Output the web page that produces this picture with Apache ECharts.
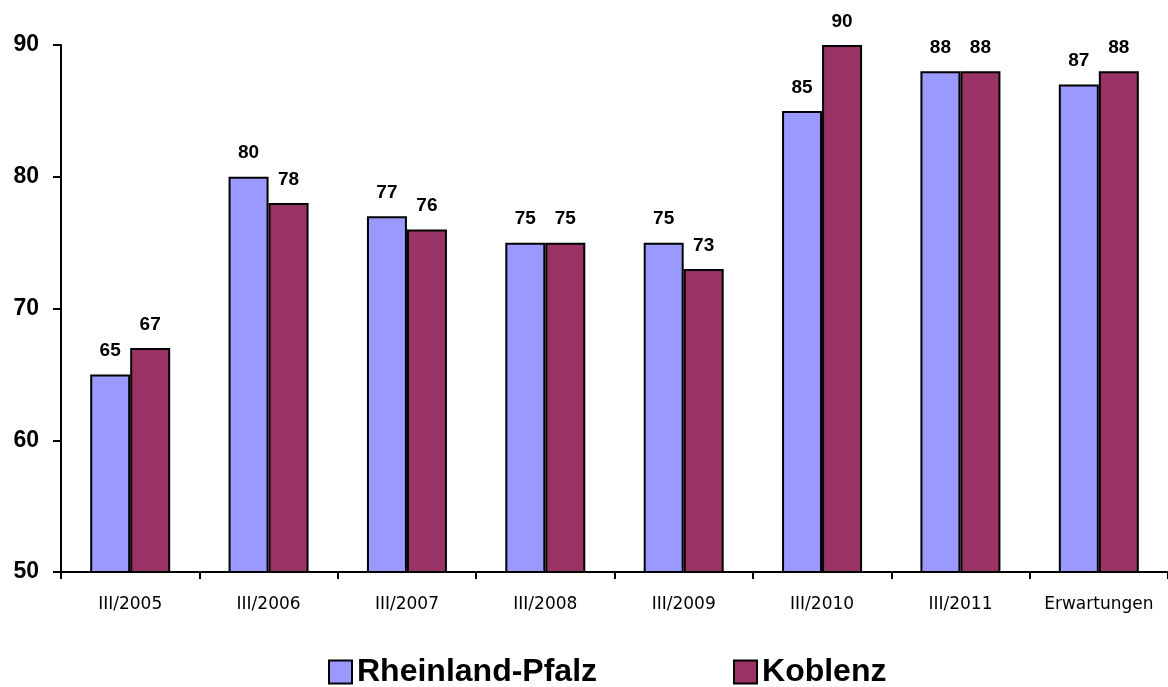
<!DOCTYPE html>
<html>
<head>
<meta charset="utf-8">
<script src="https://cdn.jsdelivr.net/npm/echarts@6/dist/echarts.min.js"></script>
<style>
html,body{margin:0;padding:0;background:#fff;}
#chart{width:1168px;height:687px;}
</style>
</head>
<body>
<div id="chart"></div>
<script>
const categories = ['III/2005','III/2006','III/2007','III/2008','III/2009','III/2010','III/2011','Erwartungen'];
const rheinlandPfalz = [65, 80, 77, 75, 75, 85, 88, 87];
const koblenz = [67, 78, 76, 75, 73, 90, 88, 88];
const seriesNames = ['Rheinland-Pfalz', 'Koblenz'];

const chart = echarts.init(document.getElementById('chart'));
const font = '"Liberation Sans"';
function barSeries(name, data, color) {
  return {
    name: name,
    type: 'bar',
    data: data,
    barWidth: 40,
    barGap: '0%',
    itemStyle: { color: color, borderColor: '#000', borderWidth: 2 },
    label: {
      show: true, position: 'top', distance: 14,
      color: '#000', fontFamily: font, fontWeight: 'bold', fontSize: 19
    },
    emphasis: { disabled: true }
  };
}
chart.setOption({
  animation: false,
  backgroundColor: '#fff',
  grid: { left: 61, right: -4, top: 45, bottom: 115, containLabel: false },
  legend: {
    data: seriesNames,
    top: 656,
    left: 328,
    padding: 0,
    itemWidth: 23,
    itemHeight: 23,
    itemGap: 136,
    icon: 'rect',
    textStyle: { fontFamily: font, fontWeight: 'bold', fontSize: 32, color: '#000' }
  },
  xAxis: {
    type: 'category',
    data: categories,
    axisLine: { lineStyle: { color: '#000', width: 2 } },
    axisTick: { show: true, length: 7, interval: 0, lineStyle: { color: '#000', width: 2 } },
    axisLabel: { interval: 0, color: '#000', fontFamily: '"DejaVu Sans"', fontSize: 17, margin: 24 }
  },
  yAxis: {
    type: 'value',
    min: 50, max: 90, interval: 10,
    splitLine: { show: false },
    axisLine: { show: true, lineStyle: { color: '#000', width: 2 } },
    axisTick: { show: true, length: 8, lineStyle: { color: '#000', width: 2 } },
    axisLabel: { color: '#000', fontFamily: font, fontWeight: 'bold', fontSize: 23, margin: 22 }
  },
  series: [
    barSeries(seriesNames[0], rheinlandPfalz, '#9999FF'),
    barSeries(seriesNames[1], koblenz, '#993366')
  ]
});
</script>
</body>
</html>
